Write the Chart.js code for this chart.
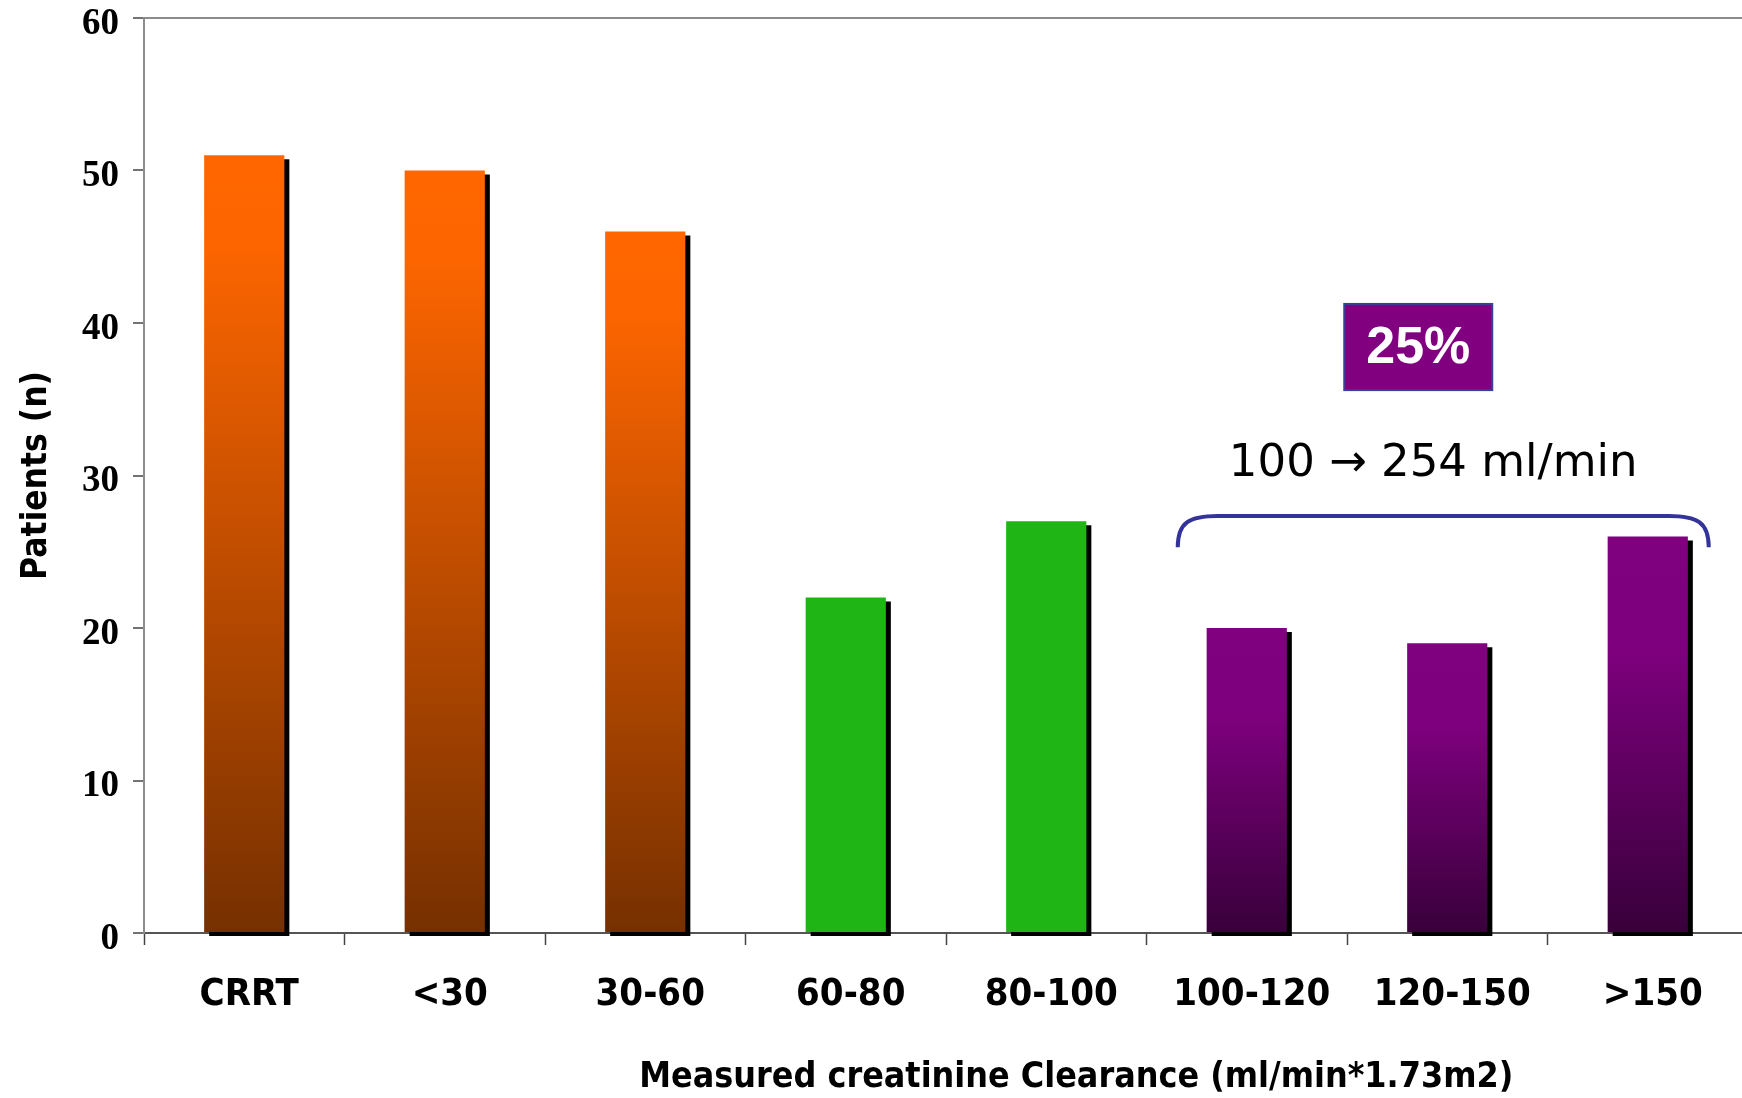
<!DOCTYPE html>
<html>
<head>
<meta charset="utf-8">
<style>
  html, body { margin: 0; padding: 0; overflow: hidden; background: #fff; }
  canvas { display: block; }
</style>
<script src="https://cdn.jsdelivr.net/npm/chart.js@4/dist/chart.umd.min.js"></script>
</head>
<body>
<canvas id="c" width="1748" height="1098"></canvas>
<script>
// Clearance bands and patient counts
const categories = ['CRRT', '<30', '30-60', '60-80', '80-100', '100-120', '120-150', '>150'];
const patients = [51, 50, 46, 22, 27, 20, 19, 26];
const bandGroup = ['low', 'low', 'low', 'normal', 'normal', 'high', 'high', 'high'];
const yTickValues = [0, 10, 20, 30, 40, 50, 60];

const yTitle = 'Patients (n)';
const xTitle = 'Measured creatinine Clearance (ml/min*1.73m2)';
const shareLabel = '25%';
const rangeLabel = '100 \u2192 254 ml/min';

const labelFamily = '"DejaVu Sans Condensed", "DejaVu Sans", sans-serif';

// Vertical fill per bar: bright top fading to a dark base
function barFill(context) {
  const chart = context.chart;
  const ys = chart.scales.y;
  const i = context.dataIndex;
  const group = bandGroup[i];
  if (group === 'normal') return '#1FB515';
  const flat = group === 'low' ? '#D85600' : '#6A006A';
  if (!ys || i === undefined) return flat;
  const top = ys.getPixelForValue(patients[i]);
  const base = ys.getPixelForValue(0);
  if (!isFinite(top) || !isFinite(base) || base <= top) return flat;
  const g = chart.ctx.createLinearGradient(0, top, 0, base);
  if (group === 'low') {
    g.addColorStop(0, '#FF6600');
    g.addColorStop(0.12, '#FC6500');
    g.addColorStop(1, '#763000');
  } else {
    g.addColorStop(0, '#800080');
    g.addColorStop(0.28, '#7E007E');
    g.addColorStop(1, '#38003A');
  }
  return g;
}

// Hard black drop shadow behind each bar
const barShadow = {
  id: 'barShadow',
  beforeDatasetsDraw(chart) {
    const ctx = chart.ctx;
    ctx.save();
    ctx.shadowColor = '#000';
    ctx.shadowBlur = 0;
    ctx.shadowOffsetX = 5;
    ctx.shadowOffsetY = 4;
  },
  afterDatasetsDraw(chart) {
    chart.ctx.restore();
  }
};

// Axis caption under the bands, share box, range text and brace over the high bands
const annotations = {
  id: 'annotations',
  afterDraw(chart) {
    const { ctx, scales: { x, y } } = chart;
    const mid = x.getPixelForValue(6);
    const leftEnd = x.getPixelForValue(5) - 69;
    const rightEnd = x.getPixelForValue(7) + 61;

    ctx.save();
    ctx.textAlign = 'center';
    ctx.textBaseline = 'middle';

    // x caption
    ctx.fillStyle = '#000';
    ctx.font = 'bold 36px ' + labelFamily;
    ctx.fillText(xTitle, x.getPixelForValue(4) + 30, chart.height - 20, 874);

    // brace
    const bTop = y.getPixelForValue(27.35);
    const bEnd = y.getPixelForValue(25.3);
    const r = 40;
    ctx.strokeStyle = '#333399';
    ctx.lineWidth = 4;
    ctx.beginPath();
    ctx.moveTo(leftEnd, bEnd);
    ctx.bezierCurveTo(leftEnd, bTop + 6, leftEnd + 12, bTop, leftEnd + r, bTop);
    ctx.lineTo(rightEnd - r, bTop);
    ctx.bezierCurveTo(rightEnd - 12, bTop, rightEnd, bTop + 6, rightEnd, bEnd);
    ctx.stroke();

    // range text
    ctx.fillStyle = '#000';
    ctx.font = '45px "DejaVu Sans", sans-serif';
    ctx.fillText(rangeLabel, mid - 14, y.getPixelForValue(30.75), 410);

    // share box
    const boxTop = y.getPixelForValue(41.25);
    const boxBottom = y.getPixelForValue(35.6);
    const boxW = 148;
    const boxX = mid - 29 - boxW / 2;
    ctx.fillStyle = '#800080';
    ctx.fillRect(boxX, boxTop, boxW, boxBottom - boxTop);
    ctx.strokeStyle = '#3C3C9C';
    ctx.lineWidth = 2;
    ctx.strokeRect(boxX, boxTop, boxW, boxBottom - boxTop);
    ctx.fillStyle = '#fff';
    ctx.font = 'bold 52px "Liberation Sans", Arial, sans-serif';
    ctx.fillText(shareLabel, boxX + boxW / 2, (boxTop + boxBottom) / 2 + 2);
    ctx.restore();
  }
};

new Chart(document.getElementById('c'), {
  type: 'bar',
  data: {
    labels: categories,
    datasets: [{
      data: patients,
      backgroundColor: barFill,
      borderWidth: 0,
      categoryPercentage: 1,
      barPercentage: 0.4,
      clip: false
    }]
  },
  options: {
    responsive: false,
    animation: false,
    events: [],
    layout: { padding: { top: 18, left: 0, right: 0, bottom: 0 } },
    plugins: {
      legend: { display: false },
      tooltip: { enabled: false },
      title: { display: false }
    },
    scales: {
      x: {
        type: 'category',
        offset: true,
        grid: {
          offset: true,
          drawOnChartArea: false,
          drawTicks: true,
          tickLength: 12,
          tickColor: '#444',
          tickWidth: 1.5
        },
        border: { display: true, color: '#555', width: 2 },
        ticks: {
          color: '#000',
          font: { family: labelFamily, weight: 'bold', size: 38, lineHeight: 1.2 },
          padding: 27,
          labelOffset: 5,
          maxRotation: 0,
          autoSkip: false
        },
        title: { display: false },
        afterFit(scale) {
          scale.height = 165;
          scale.paddingLeft = 0;
          scale.paddingRight = 0;
        }
      },
      y: {
        min: 0,
        max: 60,
        afterBuildTicks(scale) { scale.ticks = yTickValues.map(v => ({ value: v })); },
        grid: {
          drawOnChartArea: true,
          color: (c) => (c.tick && c.tick.value === 60 ? '#8C8C8C' : 'rgba(0,0,0,0)'),
          lineWidth: 2,
          drawTicks: true,
          tickLength: 11,
          tickColor: '#444',
          tickWidth: 1.5
        },
        border: { display: true, color: '#8C8C8C', width: 2 },
        ticks: {
          color: '#000',
          font: { family: '"Liberation Serif", "Times New Roman", serif', weight: 'bold', size: 37, lineHeight: 1 },
          padding: 14,
          labelOffset: 6
        },
        title: {
          display: true,
          text: yTitle,
          color: '#000',
          font: { family: labelFamily, weight: 'bold', size: 35, lineHeight: 1.2 },
          padding: { top: 16, bottom: 0 }
        },
        afterFit(scale) {
          scale.width = 144;
          scale.paddingTop = 0;
          scale.paddingBottom = 0;
        }
      }
    }
  },
  plugins: [barShadow, annotations]
});
</script>
</body>
</html>
